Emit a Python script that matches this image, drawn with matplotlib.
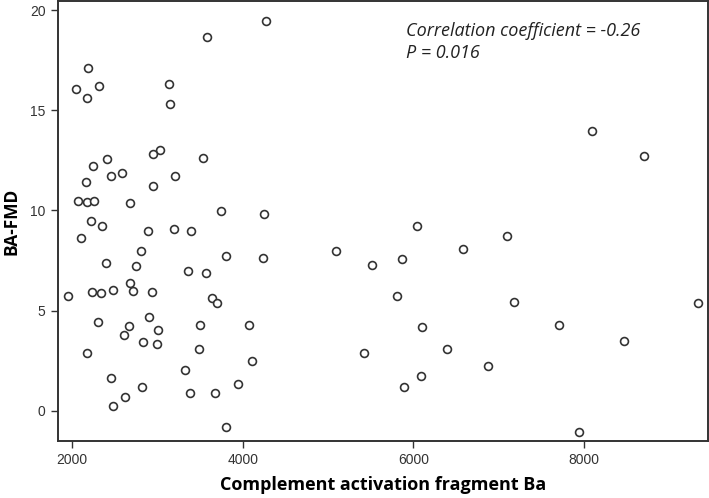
import matplotlib
matplotlib.use("Agg")
import matplotlib.pyplot as plt

# Complement activation fragment Ba vs BA-FMD
ba = [3585, 2187, 2051, 2320, 2180, 3133, 3145, 3027, 2945, 3531,
      2406, 2242, 2453, 2582, 3211, 2160, 2945, 2070, 2172, 2261,
      2680, 3742, 2219, 2351, 2887, 3199, 3398, 2105, 2808, 3804,
      2395, 2746, 3363, 3574, 2676, 1950, 2238, 2340, 2484, 2718,
      2934, 3640, 3699, 2301, 2902, 2668, 3008, 3500, 2605, 2832,
      2992, 3484, 2180, 3324, 2457, 2816, 3940, 3386, 3675, 2617,
      2480, 3808, 4269, 4246, 6039, 5097, 6581, 4238, 5518, 5866,
      5808, 4074, 6097, 4113, 5418, 6397, 6085, 5886, 8096, 8702,
      7100, 7175, 7702, 6870, 8471, 9335, 7940]
fmd = [18.65, 17.12, 16.08, 16.21, 15.60, 16.33, 15.30, 13.04, 12.84, 12.64,
       12.56, 12.24, 11.74, 11.86, 11.72, 11.43, 11.21, 10.46, 10.40, 10.45,
       10.38, 9.95, 9.48, 9.20, 9.00, 9.10, 8.98, 8.64, 7.97, 7.74,
       7.36, 7.22, 6.98, 6.89, 6.36, 5.73, 5.93, 5.89, 6.04, 5.96,
       5.93, 5.61, 5.38, 4.43, 4.68, 4.22, 4.05, 4.27, 3.80, 3.45,
       3.34, 3.07, 2.89, 2.06, 1.66, 1.21, 1.36, 0.90, 0.91, 0.71,
       0.25, -0.80, 19.43, 9.80, 9.22, 8.00, 8.06, 7.62, 7.27, 7.57,
       5.75, 4.27, 4.20, 2.49, 2.91, 3.09, 1.74, 1.20, 13.95, 12.71,
       8.75, 5.42, 4.30, 2.23, 3.49, 5.40, -1.03]

xticks = [2000, 4000, 6000, 8000]
yticks = [0, 5, 10, 15, 20]

fig = plt.figure(figsize=(7.09, 4.98), dpi=100)
ax = fig.add_axes([0.082, 0.1145, 0.9166, 0.8835])

ax.scatter(ba, fmd, s=32, facecolors="white", edgecolors="#333333", linewidths=1.2, zorder=3)

ax.set_xlim(1836, 9452)
ax.set_ylim(-1.5, 20.45)
ax.set_xticks(xticks)
ax.set_yticks(yticks)
for lab in ax.get_xticklabels() + ax.get_yticklabels():
    lab.set_fontfamily("Liberation Sans")
    lab.set_fontsize(10)
    lab.set_color("#333333")
ax.tick_params(direction="out", length=5, width=1, color="#333333", pad=4)

for s in ax.spines.values():
    s.set_linewidth(1.4)
    s.set_color("#333333")

ax.set_xlabel("Complement activation fragment Ba", fontfamily="Open Sans", fontweight="bold",
              fontsize=13, labelpad=6)
ax.set_ylabel("BA-FMD", fontfamily="Open Sans", fontweight="bold", fontsize=12.5, labelpad=7)

ax.text(0.535, 0.952, "Correlation coefficient = -0.26\nP = 0.016", transform=ax.transAxes,
        fontfamily="Open Sans", fontstyle="italic", fontsize=13, va="top", ha="left",
        linespacing=1.3, color="#222222")

fig.savefig("out.png", dpi=100)
